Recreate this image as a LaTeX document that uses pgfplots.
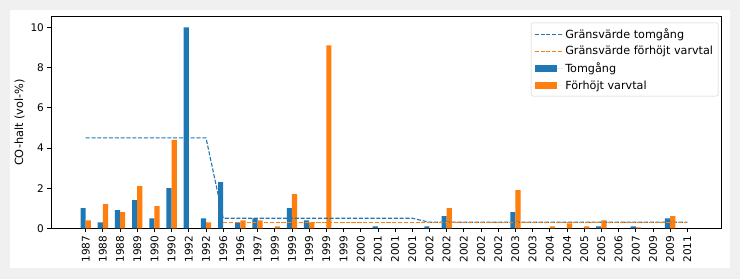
\documentclass[border=0pt]{standalone}
\usepackage{fontspec}
\setmainfont{DejaVu Sans}
\usepackage{pgfplots}
\pgfplotsset{compat=1.18}
\definecolor{tabblue}{HTML}{1F77B4}
\definecolor{taborange}{HTML}{FF7F0E}
\definecolor{bggray}{HTML}{F0F0F0}
\pgfplotsset{
  lineleg/.style={legend image code/.code={\draw[##1, sharp corners] (0pt,0pt) -- (22pt,0pt);\path (0pt,0pt) -- (28pt,0pt);}},
  barleg/.style={legend image code/.code={\fill[#1, sharp corners] (0pt,-3.8pt) rectangle (22pt,3.8pt);\path (0pt,0pt) -- (28pt,0pt);}},
  limdash/.style={line width=1.1pt, dash pattern=on 4.07pt off 1.76pt},
}
\begin{document}
\begin{tikzpicture}[x=1pt,y=1pt]
\fill[bggray] (0,0) rectangle (740,279);
\fill[white] (10,11) rectangle (730,269);
\begin{axis}[
  at={(51.3pt,50.7pt)}, anchor=south west,
  width=670.4pt, height=211.6pt, scale only axis,
  xmin=-2, xmax=37, ymin=0, ymax=10.53,
  xtick={0,...,35},
  xticklabels={1987,1988,1988,1989,1990,1990,1992,1992,1996,1996,1997,1999,1999,1999,1999,1999,2000,2001,2001,2001,2002,2002,2002,2002,2002,2003,2003,2004,2004,2005,2005,2006,2007,2009,2009,2011},
  xticklabel style={rotate=90, anchor=east},
  ytick={0,2,4,6,8,10},
  tick align=outside, tick pos=left,
  major tick length=3.85pt,
  tick style={black, line width=0.8pt},
  axis line style={line width=0.8pt},
  ticklabel style={font=\fontsize{10.5}{12}\selectfont},
  /pgf/number format/assume math mode=true,
  ylabel={CO-halt (vol-\%)},
  ylabel shift=-1pt,
  label style={font=\fontsize{11.3}{13}\selectfont},
  legend style={at={(1,1)}, anchor=north east, xshift=-3.4pt, yshift=-6pt,
    draw=black!20, fill=white, rounded corners=2pt, font=\fontsize{11.2}{13}\selectfont,
    inner xsep=3pt, inner ysep=3.5pt, row sep=2.5pt},
  legend cell align=left,
]
\addlegendimage{tabblue, limdash, lineleg}
\addlegendentry{Gränsvärde tomgång}
\addlegendimage{taborange, limdash, lineleg}
\addlegendentry{Gränsvärde förhöjt varvtal}

\addplot[ybar, bar width=0.3, bar shift=-0.15, fill=tabblue, draw=none, barleg=tabblue]
coordinates {(0,1.0) (1,0.3) (2,0.9) (3,1.4) (4,0.5) (5,2.0) (6,10.0) (7,0.5) (8,2.3) (9,0.3) (10,0.5) (12,1.0) (13,0.4) (17,0.1) (20,0.1) (21,0.6) (25,0.8) (30,0.1) (32,0.1) (34,0.5)};
\addlegendentry{Tomgång}
\addplot[ybar, bar width=0.3, bar shift=0.15, fill=taborange, draw=none, barleg=taborange]
coordinates {(0,0.4) (1,1.2) (2,0.8) (3,2.1) (4,1.1) (5,4.4) (7,0.3) (9,0.4) (10,0.4) (11,0.1) (12,1.7) (13,0.3) (14,9.1) (21,1.0) (25,1.9) (27,0.1) (28,0.25) (29,0.1) (30,0.4) (32,0.05) (34,0.6)};
\addlegendentry{Förhöjt varvtal}

\addplot[tabblue, limdash, forget plot]
coordinates {(0,4.5) (1,4.5) (2,4.5) (3,4.5) (4,4.5) (5,4.5) (6,4.5) (7,4.5) (8,0.5) (9,0.5) (10,0.5) (11,0.5) (12,0.5) (13,0.5) (14,0.5) (15,0.5) (16,0.5) (17,0.5) (18,0.5) (19,0.5) (20,0.3) (21,0.3) (22,0.3) (23,0.3) (24,0.3) (25,0.3) (26,0.3) (27,0.3) (28,0.3) (29,0.3) (30,0.3) (31,0.3) (32,0.3) (33,0.3) (34,0.3) (35,0.3)};
\addplot[taborange, limdash, forget plot]
coordinates {(8,0.3) (9,0.3) (10,0.3) (11,0.3) (12,0.3) (13,0.3) (14,0.3) (15,0.3) (16,0.3) (17,0.3) (18,0.3) (19,0.3) (20,0.3) (21,0.3) (22,0.3) (23,0.3) (24,0.3) (25,0.3) (26,0.3) (27,0.3) (28,0.3) (29,0.3) (30,0.3) (31,0.3) (32,0.3) (33,0.3) (34,0.3) (35,0.3)};
\end{axis}
\end{tikzpicture}
\end{document}
